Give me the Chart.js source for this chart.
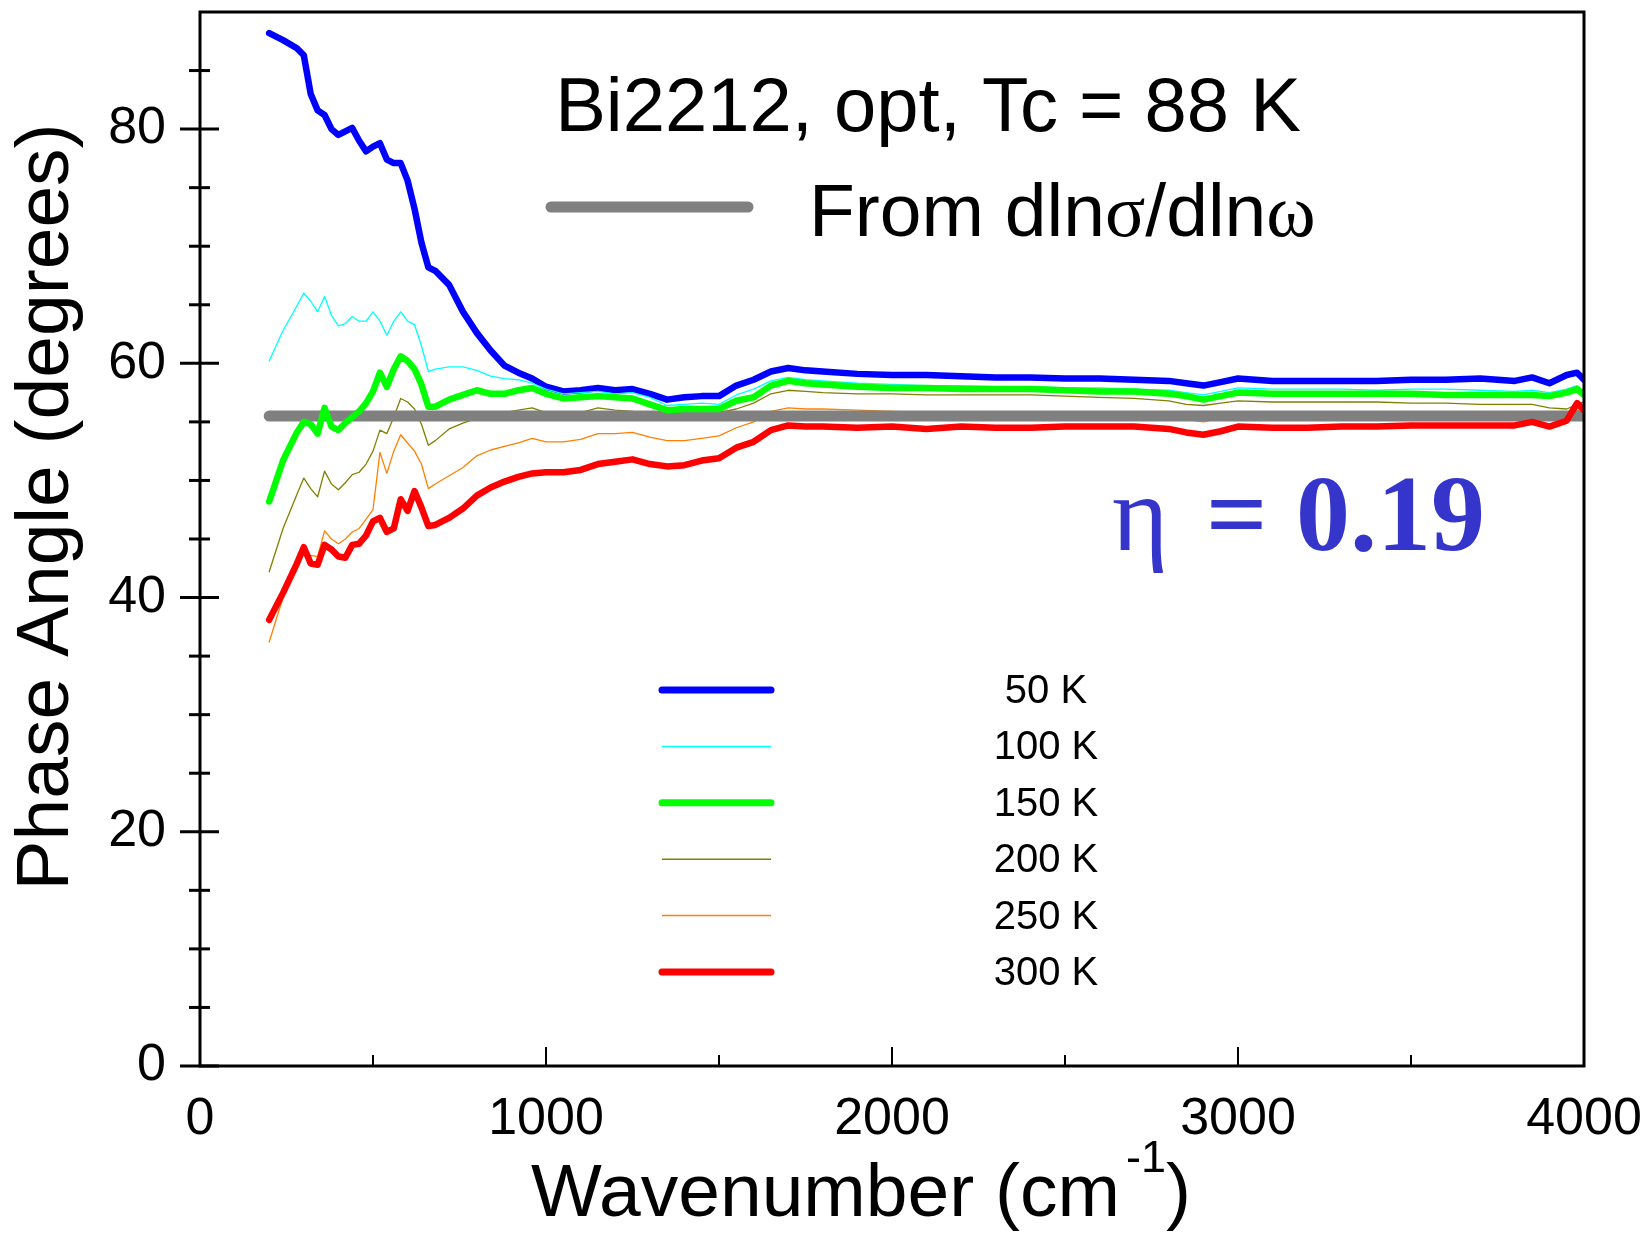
<!DOCTYPE html>
<html>
<head>
<meta charset="utf-8">
<script src="https://cdn.jsdelivr.net/npm/chart.js@4.4.1/dist/chart.umd.min.js"></script>
<style>
  body { margin: 0; background: #fff; }
  #wrap { width: 1648px; height: 1234px; }
</style>
</head>
<body>
<div id="wrap"><canvas id="phaseChart" width="1648" height="1234"></canvas></div>
<script>
// wavenumber grid (cm-1)
const wavenumber = [200,240,280,300,320,340,360,380,400,420,440,460,480,500,520,540,560,580,600,620,640,660,680,
  720,760,800,840,880,920,960,
  1000,1050,1100,1150,1200,1250,1300,1350,1400,1450,1500,1550,1600,1650,1700,1750,1800,
  1900,2000,2100,2200,2300,2400,2500,2600,2700,2800,
  2850,2900,2950,3000,
  3100,3200,3300,3400,3500,3600,3700,3800,
  3850,3900,3950,3980,4000];

const phase50K = [88.2,87.6,86.9,86.3,83.0,81.6,81.2,80.0,79.5,79.8,80.1,79.0,78.1,78.5,78.8,77.4,77.1,77.1,75.6,73.2,70.3,68.2,67.9,
  66.7,64.4,62.6,61.1,59.8,59.2,58.7,
  58.0,57.6,57.7,57.9,57.7,57.8,57.4,56.9,57.1,57.2,57.2,58.1,58.6,59.3,59.6,59.4,59.3,
  59.1,59.0,59.0,58.9,58.8,58.8,58.7,58.7,58.6,58.5,
  58.3,58.1,58.4,58.7,
  58.5,58.5,58.5,58.5,58.6,58.6,58.7,58.5,
  58.8,58.3,59.0,59.2,58.6];

const phase100K = [60.2,62.8,64.9,66.0,65.3,64.4,65.7,64.1,63.2,63.4,64.0,63.6,63.6,64.4,63.6,62.4,63.6,64.4,63.6,63.3,61.5,59.3,59.5,
  59.7,59.7,59.4,58.9,58.7,58.6,58.3,
  57.8,57.4,57.5,57.6,57.4,57.5,57.1,56.4,56.5,56.6,56.5,57.3,57.8,58.5,58.8,58.6,58.5,
  58.3,58.2,58.1,58.1,58.0,58.0,57.9,57.9,57.8,57.7,
  57.5,57.3,57.6,57.9,
  57.8,57.8,57.8,57.7,57.8,57.8,57.7,57.6,
  57.7,57.5,57.8,58.1,57.6];

const phase150K = [48.2,51.7,54.1,55.0,54.8,54.0,56.2,54.6,54.3,54.9,55.4,55.9,56.6,57.6,59.2,58.0,59.5,60.6,60.2,59.5,58.2,56.3,56.3,
  56.9,57.3,57.7,57.4,57.4,57.7,57.9,
  57.4,57.0,57.1,57.2,57.1,57.0,56.5,56.0,56.1,56.1,56.1,56.8,57.1,58.1,58.5,58.3,58.2,
  58.0,57.9,57.9,57.8,57.8,57.8,57.7,57.6,57.6,57.4,
  57.2,56.9,57.2,57.5,
  57.4,57.4,57.4,57.4,57.4,57.3,57.3,57.3,
  57.3,57.2,57.5,57.8,57.3];

const phase200K = [42.2,45.9,48.8,50.2,49.3,48.6,50.8,49.7,49.2,49.8,50.5,50.7,51.4,52.5,54.3,54.0,55.4,57.0,56.7,56.1,54.8,53.0,53.4,
  54.4,54.9,55.3,55.6,55.8,56.0,56.2,
  55.8,55.6,55.8,56.2,56.0,55.9,55.6,55.2,55.3,55.5,55.8,56.1,56.6,57.4,57.7,57.6,57.5,
  57.4,57.4,57.3,57.3,57.3,57.3,57.2,57.1,57.0,56.8,
  56.5,56.4,56.6,56.8,
  56.7,56.7,56.7,56.7,56.6,56.6,56.5,56.5,
  56.5,56.2,56.1,56.5,56.7];

const phase250K = [36.2,40.0,43.0,43.8,43.6,43.5,45.7,45.0,44.6,45.0,45.6,45.9,46.7,47.5,52.4,50.6,52.5,53.9,53.2,52.5,51.4,49.3,49.7,
  50.4,51.1,52.1,52.6,52.9,53.2,53.6,
  53.3,53.3,53.5,54.0,54.0,54.1,53.7,53.4,53.4,53.6,53.8,54.5,55.0,55.9,56.2,56.1,56.1,
  56.0,55.9,55.8,55.8,55.7,55.7,55.7,55.6,55.6,55.4,
  55.2,55.0,55.3,55.6,
  55.5,55.5,55.5,55.5,55.5,55.5,55.5,55.5,
  55.5,55.3,55.4,56.0,55.8];

const phase300K = [38.1,40.4,42.9,44.3,42.9,42.8,44.5,44.1,43.5,43.4,44.5,44.6,45.3,46.5,46.8,45.6,45.9,48.4,47.4,49.1,47.7,46.1,46.2,
  46.8,47.6,48.7,49.4,49.9,50.3,50.6,
  50.7,50.7,50.9,51.4,51.6,51.8,51.4,51.2,51.3,51.7,51.9,52.8,53.3,54.3,54.7,54.6,54.6,
  54.5,54.6,54.4,54.6,54.5,54.5,54.6,54.6,54.6,54.4,
  54.1,53.9,54.2,54.6,
  54.5,54.5,54.6,54.6,54.7,54.7,54.7,54.7,
  55.0,54.6,55.1,56.6,56.0];

// from dln(sigma)/dln(omega): eta = 0.19
const refX = [200, 4000];
const refY = [55.5, 55.5];

const seriesLabels = ['50 K', '100 K', '150 K', '200 K', '250 K', '300 K'];
const seriesValues = [phase50K, phase100K, phase150K, phase200K, phase250K, phase300K];
const seriesColors = ['#0000ff', '#00ffff', '#00ff00', '#808000', '#ff8000', '#ff0000'];
const seriesWidths = [6.5, 1.3, 6.5, 1.3, 1.3, 6.5];
const seriesOrder = [3, 2, 1, 5, 6, 0];

const xTicks = [0, 1000, 2000, 3000, 4000];
const xMinorTicks = [500, 1500, 2500, 3500];
const yTicks = [0, 20, 40, 60, 80];
const yMinorTicks = [5, 10, 15, 25, 30, 35, 45, 50, 55, 65, 70, 75, 85];

const SANS = '"Liberation Sans", Arial, sans-serif';
const SERIF = '"Liberation Serif", "Times New Roman", serif';

const datasets = seriesValues.map((vals, i) => ({
  label: seriesLabels[i],
  data: vals.map((v, k) => ({ x: wavenumber[k], y: v })),
  borderColor: seriesColors[i],
  borderWidth: seriesWidths[i],
  order: seriesOrder[i],
  pointRadius: 0,
  tension: 0,
  fill: false,
  borderJoinStyle: 'round',
  borderCapStyle: 'round'
}));
datasets.push({
  label: 'ref',
  data: refX.map((x, k) => ({ x: x, y: refY[k] })),
  borderColor: '#808080',
  borderWidth: 11,
  order: 4,
  pointRadius: 0,
  borderCapStyle: 'round'
});

function noPad(s) {
  s.paddingTop = 0; s.paddingBottom = 0; s.paddingLeft = 0; s.paddingRight = 0;
}

const framePlugin = {
  id: 'frame',
  afterDatasetsDraw(chart) {
    const { ctx, chartArea: a, scales: { x, y } } = chart;
    ctx.save();
    ctx.strokeStyle = '#000';
    ctx.lineWidth = 3;
    ctx.strokeRect(a.left, a.top, a.right - a.left, a.bottom - a.top);
    // y ticks cross the axis
    yTicks.forEach(v => {
      const py = y.getPixelForValue(v);
      ctx.beginPath(); ctx.moveTo(a.left - 20, py); ctx.lineTo(a.left + 19, py); ctx.stroke();
    });
    yMinorTicks.forEach(v => {
      const py = y.getPixelForValue(v);
      ctx.beginPath(); ctx.moveTo(a.left - 11, py); ctx.lineTo(a.left + 10, py); ctx.stroke();
    });
    ctx.lineWidth = 2;
    xTicks.forEach(v => {
      const px = x.getPixelForValue(v);
      ctx.beginPath(); ctx.moveTo(px, a.bottom); ctx.lineTo(px, a.bottom - 19); ctx.stroke();
    });
    xMinorTicks.forEach(v => {
      const px = x.getPixelForValue(v);
      ctx.beginPath(); ctx.moveTo(px, a.bottom); ctx.lineTo(px, a.bottom - 11); ctx.stroke();
    });
    ctx.restore();
  }
};

const textPlugin = {
  id: 'texts',
  afterDraw(chart) {
    const ctx = chart.ctx;
    ctx.save();
    ctx.fillStyle = '#000';

    // axis titles
    ctx.font = '75px ' + SANS;
    ctx.textBaseline = 'middle';
    ctx.textAlign = 'center';
    ctx.save();
    ctx.translate(47, 507);
    ctx.rotate(-Math.PI / 2);
    ctx.fillText('Phase Angle (degrees)', 0, 0);
    ctx.restore();

    ctx.textBaseline = 'alphabetic';
    ctx.textAlign = 'left';
    let tx = 531;
    const base = 1216;
    ctx.fillText('Wavenumber (cm', tx, base);
    tx += ctx.measureText('Wavenumber (cm').width + 6;
    ctx.font = '45px ' + SANS;
    ctx.fillText('-1', tx, base - 44);
    tx += ctx.measureText('-1').width;
    ctx.font = '75px ' + SANS;
    ctx.fillText(')', tx, base);

    // title and reference line legend
    ctx.font = '76px ' + SANS;
    ctx.textAlign = 'center';
    ctx.fillText('Bi2212, opt, Tc = 88 K', 928, 131);
    ctx.textAlign = 'left';
    const parts = [['From dln', SANS], ['\u03c3', SERIF], ['/dln', SANS], ['\u03c9', SERIF]];
    let fx = 809;
    parts.forEach(([t, f]) => {
      ctx.font = '75px ' + f;
      ctx.fillText(t, fx, 236);
      fx += ctx.measureText(t).width;
    });
    ctx.strokeStyle = '#808080';
    ctx.lineWidth = 11;
    ctx.lineCap = 'round';
    ctx.beginPath(); ctx.moveTo(551, 207); ctx.lineTo(748, 207); ctx.stroke();

    // eta
    ctx.fillStyle = '#3535cc';
    ctx.font = '108px ' + SERIF;
    ctx.fillText('\u03b7', 1112, 550);
    ctx.font = 'bold 108px ' + SERIF;
    ctx.fillText('=', 1206, 550);
    ctx.fillText('0.19', 1296, 550);

    // temperature legend
    ctx.fillStyle = '#000';
    ctx.font = '40px ' + SANS;
    ctx.textAlign = 'center';
    ctx.textBaseline = 'middle';
    chart.data.datasets.forEach((ds, i) => {
      if (i >= seriesLabels.length) return;
      const ly = 690 + i * 56.4;
      ctx.strokeStyle = ds.borderColor;
      ctx.lineWidth = ds.borderWidth > 3 ? 7 : 1.5;
      ctx.lineCap = ds.borderWidth > 3 ? 'round' : 'butt';
      ctx.beginPath(); ctx.moveTo(662, ly); ctx.lineTo(771, ly); ctx.stroke();
      ctx.fillText(ds.label, 1046, ly + 2);
    });
    ctx.restore();
  }
};

new Chart(document.getElementById('phaseChart'), {
  type: 'line',
  data: { datasets: datasets },
  options: {
    responsive: false,
    animation: false,
    layout: { padding: { top: 12, right: 64, left: 0, bottom: 0 } },
    plugins: { legend: { display: false }, tooltip: { enabled: false } },
    scales: {
      x: {
        type: 'linear',
        min: 0, max: 4000,
        grid: { display: false, drawTicks: false },
        border: { display: false },
        afterBuildTicks: s => { s.ticks = xTicks.map(v => ({ value: v })); },
        afterFit: s => { s.height = 168; noPad(s); },
        ticks: { color: '#000', font: { size: 52, family: SANS }, padding: 22, maxRotation: 0,
          callback: v => String(v) }
      },
      y: {
        min: 0, max: 90,
        grid: { display: false, drawTicks: false },
        border: { display: false },
        afterBuildTicks: s => { s.ticks = yTicks.map(v => ({ value: v })); },
        afterFit: s => { s.width = 200; noPad(s); },
        ticks: { color: '#000', font: { size: 52, family: SANS }, padding: 34,
          callback: v => String(v) }
      }
    }
  },
  plugins: [framePlugin, textPlugin]
});
</script>
</body>
</html>
